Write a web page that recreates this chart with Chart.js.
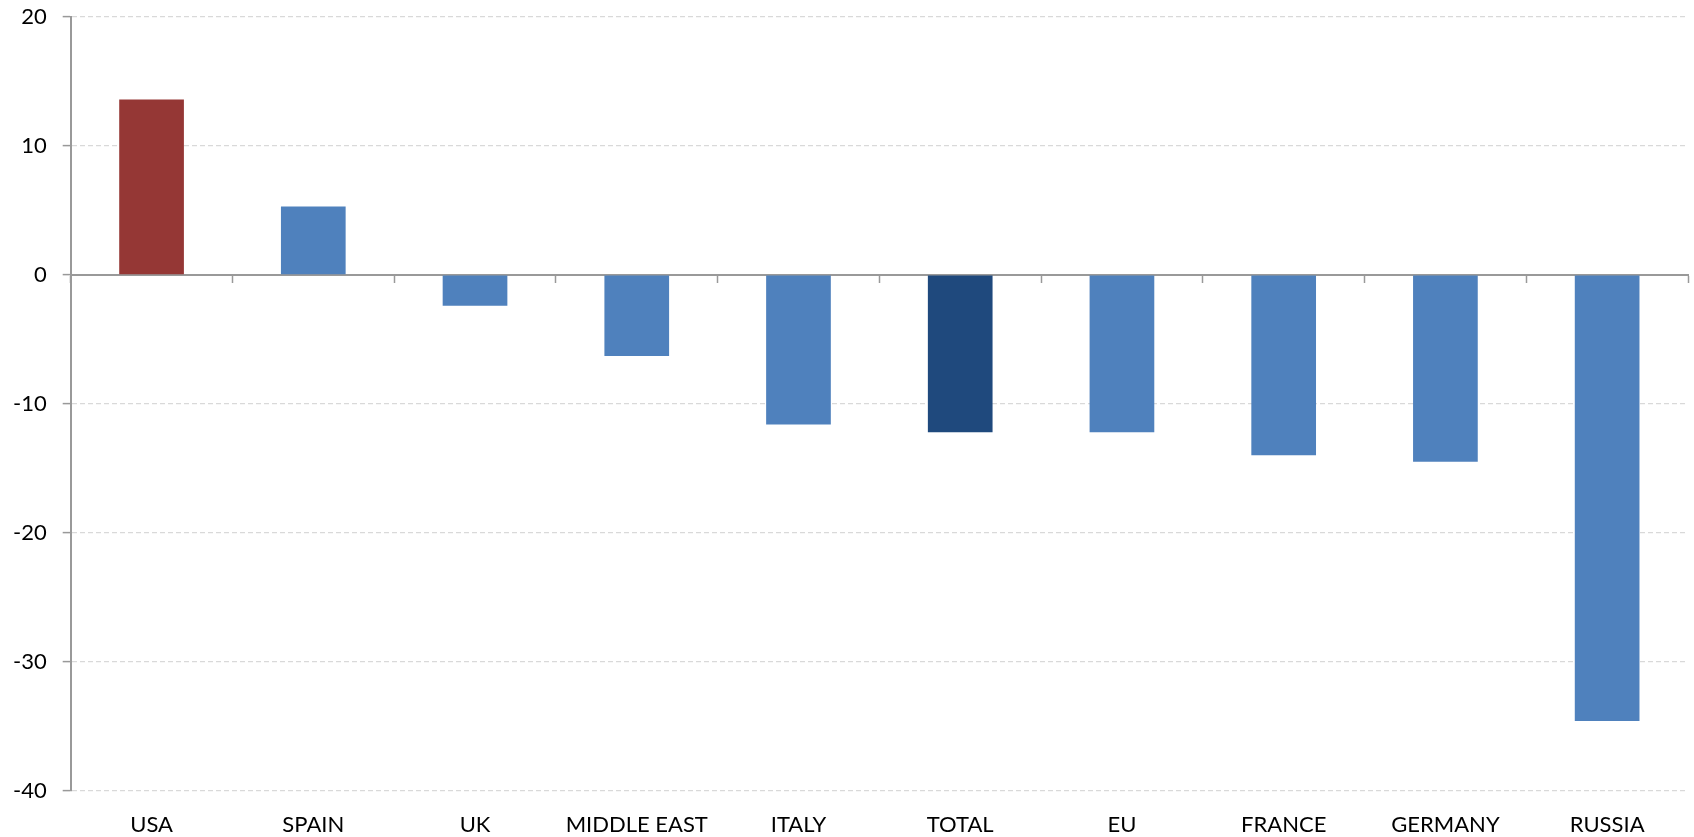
<!DOCTYPE html>
<html>
<head>
<meta charset="utf-8">
<script src="https://cdn.jsdelivr.net/npm/chart.js@4"></script>
<style>
  body { margin: 0; background: #fff; }
  #wrap { width: 1694px; height: 837px; }
</style>
</head>
<body>
<div id="wrap"><canvas id="chart"></canvas></div>
<script>
// categories and values
const regions = ["USA", "SPAIN", "UK", "MIDDLE EAST", "ITALY", "TOTAL", "EU", "FRANCE", "GERMANY", "RUSSIA"];
const changes = [13.6, 5.3, -2.4, -6.3, -11.6, -12.2, -12.2, -14.0, -14.5, -34.6];
const yTicks = [20, 10, 0, -10, -20, -30, -40];

// USA red, TOTAL dark blue, others light blue
const barColors = regions.map(r => r === "USA" ? "#953735" : r === "TOTAL" ? "#1F497D" : "#4F81BD");

const labelFont = { family: "Lato, 'Liberation Sans', sans-serif", size: 22 };

const ctx = document.getElementById("chart").getContext("2d");

new Chart(ctx, {
  type: "bar",
  data: {
    labels: regions,
    datasets: [
      {
        data: changes,
        backgroundColor: barColors,
        borderWidth: 0,
        barPercentage: 0.4,
        categoryPercentage: 1.0
      }
    ]
  },
  options: {
    responsive: true,
    maintainAspectRatio: false,
    animation: false,
    layout: { padding: { top: 17, right: 6, left: -3, bottom: -22 } },
    plugins: {
      legend: { display: false },
      tooltip: { enabled: false }
    },
    scales: {
      x: {
        grid: { display: false, drawTicks: false },
        border: { display: false },
        ticks: { color: "#000", font: labelFont, padding: 21 }
      },
      // second category axis only to draw the zero line with its tick marks
      x0: {
        type: "category",
        position: { y: 0 },
        offset: true,
        z: 1,
        grid: { drawOnChartArea: false, offset: true, tickLength: 7, tickColor: "#999", tickWidth: 1.5 },
        border: { color: "#999", width: 2 },
        ticks: { display: false }
      },
      y: {
        min: -40,
        max: 20,
        afterBuildTicks: axis => { axis.ticks = yTicks.map(v => ({ value: v })); },
        // labels may overhang the plot area, like the original
        afterFit: axis => { axis.paddingTop = 0; axis.paddingBottom = 0; },
        grid: { color: "#d9d9d9", lineWidth: 1.2, tickLength: 8, tickColor: "#999", tickWidth: 1.5 },
        border: { color: "#999", width: 2, dash: [5, 3] },
        ticks: { color: "#000", font: labelFont, padding: 16 }
      }
    }
  }
});
</script>
</body>
</html>
